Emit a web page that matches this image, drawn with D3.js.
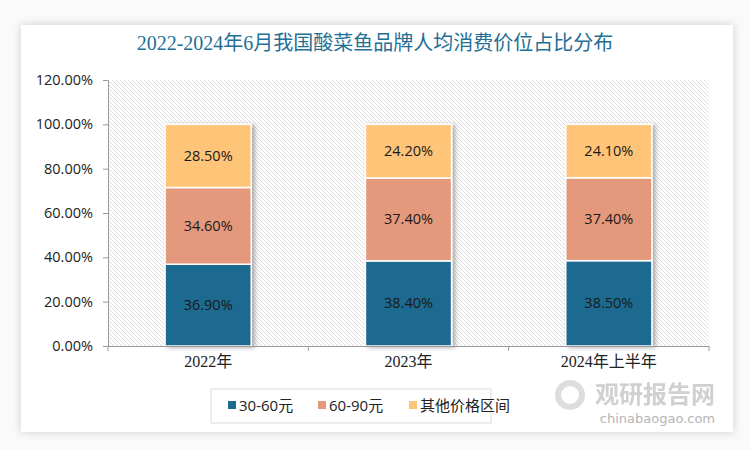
<!DOCTYPE html>
<html><head><meta charset="utf-8">
<script src="https://cdn.jsdelivr.net/npm/d3@7/dist/d3.min.js"></script>
<style>body{margin:0;background:#f2f2f2;}svg{display:block;}</style>
</head><body>
<svg id="c" width="750" height="450"></svg>
<script>
const title = "2022-2024年6月我国酸菜鱼品牌人均消费价位占比分布";
const categories = ["2022年", "2023年", "2024年上半年"];
const seriesNames = ["30-60元", "60-90元", "其他价格区间"];
const s1 = [36.9, 38.4, 38.5];
const s2 = [34.6, 37.4, 37.4];
const s3 = [28.5, 24.2, 24.1];
const yTicks = [0, 20, 40, 60, 80, 100, 120];
const colors = ["#1c6a90", "#e5997b", "#fec477"];

const svg = d3.select("#c");
const defs = svg.append("defs");
const f = defs.append("filter").attr("id","sh").attr("x","-10%").attr("y","-10%").attr("width","130%").attr("height","130%");
f.append("feDropShadow").attr("dx",0).attr("dy",0).attr("stdDeviation",5).attr("flood-color","#000").attr("flood-opacity",0.18);
const fb = defs.append("filter").attr("id","bsh").attr("x","-10%").attr("y","-10%").attr("width","130%").attr("height","130%");
fb.append("feDropShadow").attr("dx",3).attr("dy",1).attr("stdDeviation",2).attr("flood-color","#000").attr("flood-opacity",0.3);
const pat = defs.append("pattern").attr("id","hatch").attr("patternUnits","userSpaceOnUse").attr("width",4).attr("height",4);
pat.append("rect").attr("width",4).attr("height",4).attr("fill","#fff");
pat.append("path").attr("d","M0,0 L4,4 M-1,3 L1,5 M3,-1 L5,1").attr("stroke","#d4d4d4").attr("stroke-width",0.8);

svg.append("rect").attr("x",0).attr("y",0).attr("width",750).attr("height",450).attr("fill","#fafafa");
svg.append("rect").attr("x",21).attr("y",25).attr("width",712).attr("height",407).attr("fill","#fff").attr("filter","url(#sh)");

svg.append("text").attr("x",375).attr("y",50).attr("text-anchor","middle")
  .attr("font-family","'Liberation Serif','Noto Sans CJK SC'").attr("font-size",20)
  .attr("fill","#236f96").text(title);

const L = 108, R = 709, T = 80, B = 346;
const x = d3.scaleBand().domain(categories).range([L, R]).paddingInner(0.57).paddingOuter(0.285);
const xb = d3.scaleBand().domain(categories).range([L, R]);
const y = d3.scaleLinear().domain([0, 120]).range([B, T]);

svg.append("rect").attr("x",L).attr("y",T).attr("width",R-L).attr("height",B-T).attr("fill","url(#hatch)");

// watermark (behind)
svg.append("text").attr("x",715).attr("y",403).attr("text-anchor","end").attr("font-family","'Noto Sans CJK SC'").attr("font-weight","bold").attr("font-size",24).attr("fill","#c8c8c8").attr("opacity",0.85).text("观研报告网");
svg.append("text").attr("x",715).attr("y",423).attr("text-anchor","end").attr("font-family","'DejaVu Sans'").attr("font-size",13).attr("fill","#b5b5b5").text("chinabaogao.com");
svg.append("circle").attr("cx",570).attr("cy",395).attr("r",12).attr("fill","none").attr("stroke","#cfcfcf").attr("stroke-width",6).attr("opacity",0.7);

const data = categories.map((c,i)=>({cat:c, v:[s1[i], s2[i], s3[i]]}));
const g = svg.append("g");
data.forEach(d=>{
  let acc = 0;
  const gb = g.append("g").attr("filter","url(#bsh)");
  d.v.forEach((v,k)=>{
    gb.append("rect").attr("x",x(d.cat)).attr("y",y(acc+v)).attr("width",x.bandwidth())
      .attr("height",y(acc)-y(acc+v)).attr("fill",colors[k]).attr("stroke","#fff").attr("stroke-width",1.5);
    acc += v;
  });
  acc = 0;
  d.v.forEach((v,k)=>{
    g.append("text").attr("x",x(d.cat)+x.bandwidth()/2).attr("y",y(acc+v/2)+5)
      .attr("text-anchor","middle").attr("font-family","'Open Sans','Liberation Sans',sans-serif")
      .attr("font-size",14.5).attr("fill","#1a1a1a").text(v.toFixed(2)+"%");
    acc += v;
  });
});

// Y axis
const ya = svg.append("g").attr("transform",`translate(${L},0)`)
  .call(d3.axisLeft(y).tickValues(yTicks).tickSize(5).tickSizeOuter(0).tickFormat(d=>d.toFixed(2)+"%"));
ya.select(".domain").attr("stroke","#999");
ya.selectAll(".tick line").attr("stroke","#999");
ya.selectAll("text").attr("font-family","'Open Sans','Liberation Sans',sans-serif").attr("font-size",14.5).attr("fill","#222").attr("x",-15);

// X axis
const xa = svg.append("g").attr("transform",`translate(0,${B})`)
  .call(d3.axisBottom(xb).tickSize(0).tickSizeOuter(0));
xa.select(".domain").attr("stroke","#999");
xa.selectAll("text").attr("font-family","'Liberation Serif','Noto Sans CJK SC'").attr("font-size",16).attr("fill","#222").attr("dy","1.1em");
const bounds = [L].concat(categories.map(c=>xb(c)+xb.bandwidth()));
xa.selectAll(".bt").data(bounds).enter().append("line").attr("x1",d=>d).attr("x2",d=>d).attr("y1",0).attr("y2",5).attr("stroke","#999");

// legend
const lg = svg.append("g");
lg.append("rect").attr("x",211).attr("y",389).attr("width",280).attr("height",34).attr("fill","#fff").attr("stroke","#d9d9d9");
const lx = [228, 318, 409];
seriesNames.forEach((n,i)=>{
  lg.append("rect").attr("x",lx[i]).attr("y",401).attr("width",8).attr("height",8).attr("fill",colors[i]);
  lg.append("text").attr("x",lx[i]+11).attr("y",411).attr("font-family","'Open Sans','Noto Sans CJK SC',sans-serif").attr("font-size",15).attr("fill","#222").text(n);
});
</script>
</body></html>
